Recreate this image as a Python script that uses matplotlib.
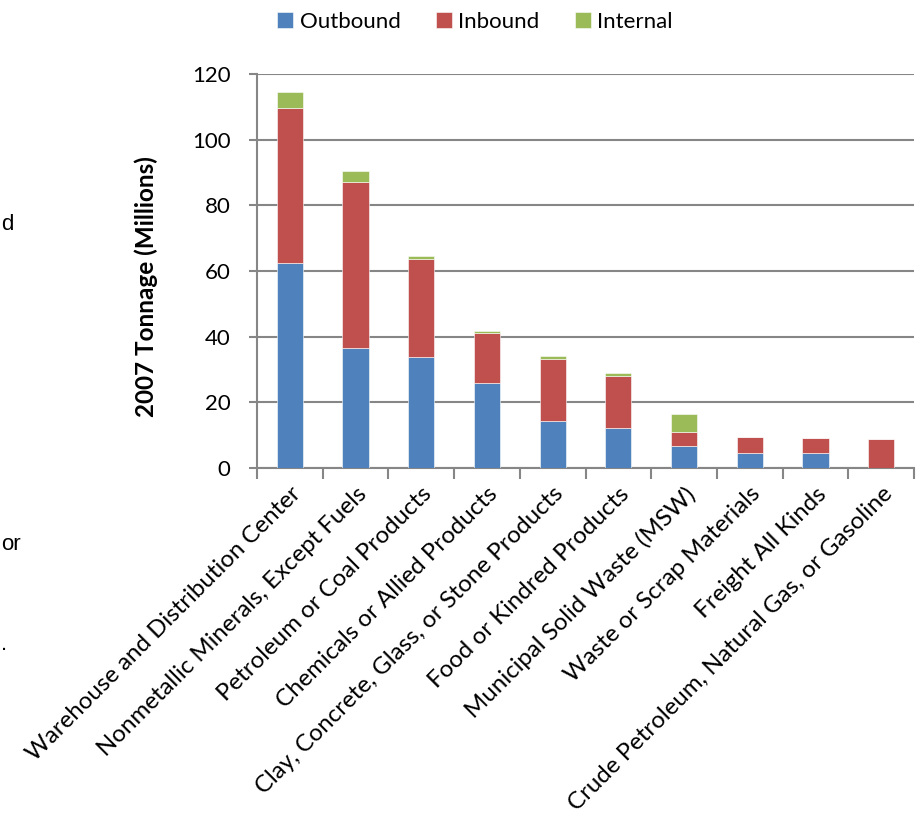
import matplotlib.pyplot as plt
import numpy as np

# commodity groups, 2007 tonnage in millions
categories = [
    "Warehouse and Distribution Center",
    "Nonmetallic Minerals, Except Fuels",
    "Petroleum or Coal Products",
    "Chemicals or Allied Products",
    "Clay, Concrete, Glass, or Stone Products",
    "Food or Kindred Products",
    "Municipal Solid Waste (MSW)",
    "Waste or Scrap Materials",
    "Freight All Kinds",
    "Crude Petroleum, Natural Gas, or Gasoline",
]
outbound = [62.5, 36.6, 33.7, 26.0, 14.3, 12.1, 6.8, 4.7, 4.5, 0.1]
inbound = [47.0, 50.5, 30.0, 15.2, 19.0, 16.0, 4.3, 4.6, 4.7, 8.6]
internal = [5.1, 3.4, 0.9, 0.4, 0.8, 0.8, 5.3, 0.1, 0.0, 0.0]
yticks = [0, 20, 40, 60, 80, 100, 120]

blue = "#4f81bd"
red = "#c0504d"
green = "#9bbb59"
grey = "#868686"

plt.rcParams["font.family"] = ["Lato", "DejaVu Sans"]

fig = plt.figure(figsize=(9.17, 8.25), dpi=100)
ax = fig.add_axes([257 / 917, 1 - 468 / 825, 657 / 917, 394 / 825])

x = np.arange(len(categories))
out = np.array(outbound)
inb = np.array(inbound)
intl = np.array(internal)
w = 0.4
ax.bar(x, out, w, color=blue, edgecolor="white", linewidth=0.4, label="Outbound", zorder=3)
ax.bar(x, inb, w, bottom=out, color=red, edgecolor="white", linewidth=0.4, label="Inbound", zorder=3)
ax.bar(x, intl, w, bottom=out + inb, color=green, edgecolor="white", linewidth=0.4, label="Internal", zorder=3)

ax.set_xlim(-0.5, len(categories) - 0.5)
ax.set_ylim(0, 120)
ax.set_yticks(yticks)
ax.tick_params(axis="y", labelsize=16, length=6, color=grey, width=1.5, pad=13)
ax.yaxis.grid(True, color=grey, linewidth=1.5, zorder=0)
ax.set_axisbelow(True)

# category labels, tick marks between bars
ax.set_xticks(np.arange(-0.5, len(categories), 1.0))
ax.set_xticklabels([])
ax.tick_params(axis="x", length=8, color=grey, width=1.5)
ax.set_xticks(x, minor=True)
ax.set_xticklabels(categories, minor=True, rotation=45, ha="right", rotation_mode="anchor", fontsize=17.3)
ax.tick_params(axis="x", which="minor", length=0, pad=11)

for s in ["top", "right"]:
    ax.spines[s].set_visible(False)
for s in ["left", "bottom"]:
    ax.spines[s].set_color(grey)
    ax.spines[s].set_linewidth(1.5)

ax.set_ylabel("2007 Tonnage (Millions)", fontsize=17.5, fontweight="bold")
ax.yaxis.set_label_coords((158 - 257) / 657, (468 - 287) / 394)

fig.legend(loc="upper center", bbox_to_anchor=(475 / 917, 1.01), ncol=3, frameon=False,
           fontsize=16, handlelength=0.7, handleheight=0.7, handletextpad=0.3, columnspacing=1.6)

# partial words at the left edge
for txt, yy in [("d", 225), ("or", 545), (".", 645)]:
    fig.text(0.001, 1 - yy / 825, txt, fontsize=16, family="Liberation Sans", va="center", ha="left")

fig.savefig("out.png", dpi=100)
